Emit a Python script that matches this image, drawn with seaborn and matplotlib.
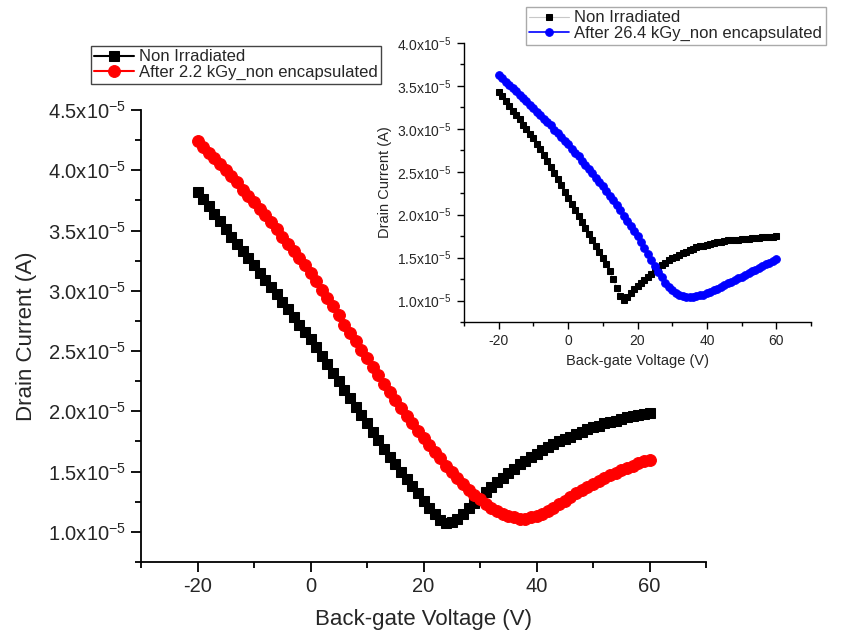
import numpy as np
import seaborn as sns
import matplotlib.pyplot as plt
from matplotlib.ticker import MultipleLocator, FuncFormatter

sns.set_style("ticks")
plt.rcParams['font.family'] = ['Liberation Sans', 'DejaVu Sans']
plt.rcParams['mathtext.fontset'] = 'custom'
plt.rcParams['mathtext.rm'] = 'Liberation Sans'
plt.rcParams['mathtext.default'] = 'regular'
plt.rcParams['axes.unicode_minus'] = False

# gate voltage sweep (V)
vg = np.arange(-20, 61, 1)

# main plot: drain current in units of 1e-5 A
main_non_irr = [3.82, 3.76, 3.70, 3.64, 3.58, 3.51, 3.45, 3.39, 3.33, 3.27,
                3.21, 3.15, 3.09, 3.03, 2.97, 2.91, 2.85, 2.78, 2.72, 2.66,
                2.60, 2.53, 2.46, 2.39, 2.32, 2.25, 2.18, 2.11, 2.04, 1.97,
                1.90, 1.83, 1.76, 1.69, 1.62, 1.56, 1.50, 1.44, 1.38, 1.32,
                1.26, 1.20, 1.15, 1.10, 1.07, 1.08, 1.11, 1.15, 1.20, 1.24,
                1.28, 1.33, 1.37, 1.41, 1.45, 1.49, 1.52, 1.56, 1.59, 1.62,
                1.65, 1.68, 1.70, 1.73, 1.75, 1.77, 1.79, 1.81, 1.83, 1.85,
                1.87, 1.88, 1.90, 1.91, 1.92, 1.94, 1.95, 1.96, 1.97, 1.98,
                1.99]
main_after = [4.24, 4.19, 4.14, 4.10, 4.05, 4.00, 3.95, 3.90, 3.84, 3.79,
              3.74, 3.68, 3.63, 3.57, 3.51, 3.45, 3.39, 3.33, 3.27, 3.21,
              3.15, 3.08, 3.01, 2.94, 2.87, 2.80, 2.72, 2.65, 2.58, 2.51,
              2.44, 2.37, 2.30, 2.23, 2.16, 2.09, 2.03, 1.96, 1.90, 1.84,
              1.78, 1.72, 1.66, 1.61, 1.55, 1.50, 1.45, 1.40, 1.35, 1.31,
              1.27, 1.23, 1.20, 1.17, 1.15, 1.13, 1.12, 1.11, 1.11, 1.12,
              1.13, 1.15, 1.17, 1.20, 1.23, 1.26, 1.29, 1.32, 1.35, 1.37,
              1.40, 1.42, 1.45, 1.47, 1.49, 1.51, 1.53, 1.55, 1.57, 1.59,
              1.60]

# inset plot
inset_non_irr = [3.43, 3.38, 3.32, 3.27, 3.21, 3.16, 3.11, 3.05, 3.00, 2.94,
                 2.89, 2.82, 2.76, 2.69, 2.63, 2.56, 2.49, 2.42, 2.35, 2.27,
                 2.20, 2.13, 2.05, 1.98, 1.91, 1.84, 1.77, 1.70, 1.63, 1.56,
                 1.49, 1.42, 1.34, 1.25, 1.15, 1.05, 1.01, 1.04, 1.09, 1.13,
                 1.17, 1.21, 1.24, 1.28, 1.31, 1.35, 1.38, 1.41, 1.44, 1.47,
                 1.49, 1.51, 1.53, 1.55, 1.57, 1.59, 1.60, 1.62, 1.63, 1.64,
                 1.65, 1.66, 1.67, 1.68, 1.68, 1.69, 1.70, 1.70, 1.71, 1.71,
                 1.72, 1.72, 1.72, 1.73, 1.73, 1.73, 1.74, 1.74, 1.74, 1.74,
                 1.75]
inset_after = [3.63, 3.59, 3.55, 3.51, 3.47, 3.44, 3.40, 3.36, 3.32, 3.28,
               3.24, 3.20, 3.16, 3.12, 3.08, 3.04, 2.99, 2.95, 2.91, 2.86,
               2.82, 2.77, 2.72, 2.68, 2.63, 2.58, 2.53, 2.48, 2.43, 2.38,
               2.33, 2.28, 2.22, 2.17, 2.11, 2.05, 1.99, 1.93, 1.87, 1.81,
               1.75, 1.68, 1.61, 1.54, 1.47, 1.40, 1.33, 1.27, 1.21, 1.16,
               1.12, 1.09, 1.07, 1.05, 1.04, 1.04, 1.04, 1.05, 1.06, 1.07,
               1.09, 1.10, 1.12, 1.14, 1.16, 1.18, 1.20, 1.22, 1.24, 1.26,
               1.28, 1.30, 1.32, 1.34, 1.36, 1.38, 1.40, 1.42, 1.44, 1.46,
               1.48]

scale = 1e-5


def sci_fmt(v, pos):
    return r"$\mathregular{%.1fx10^{-5}}$" % (v / scale)


def style_axes(ax, tick_size, lw):
    sns.despine(ax=ax)
    for side in ['left', 'bottom']:
        ax.spines[side].set_linewidth(lw)
        ax.spines[side].set_color('black')
    ax.xaxis.set_major_locator(MultipleLocator(20))
    ax.xaxis.set_minor_locator(MultipleLocator(10))
    ax.yaxis.set_major_locator(MultipleLocator(0.5 * scale))
    ax.yaxis.set_minor_locator(MultipleLocator(0.25 * scale))
    ax.yaxis.set_major_formatter(FuncFormatter(sci_fmt))
    ax.tick_params(which='major', direction='out', length=7 * lw / 1.3, width=lw,
                   labelsize=tick_size, color='black')
    ax.tick_params(which='minor', direction='out', length=4 * lw / 1.3, width=lw,
                   color='black')
    ax.set_xlim(-30, 70)


fig = plt.figure(figsize=(8.43, 6.37), dpi=100)

# ---- main axes
ax = fig.add_axes([141 / 843, 1 - 562 / 637, 565 / 843, 452 / 637])
sns.lineplot(x=vg, y=np.array(main_non_irr) * scale, ax=ax, color='black',
             marker='s', markersize=7.5, markeredgecolor='black', linewidth=1.5,
             label='Non Irradiated')
sns.lineplot(x=vg, y=np.array(main_after) * scale, ax=ax, color='#ff0000',
             marker='o', markersize=8.5, markeredgecolor='#ff0000', linewidth=1.5,
             label='After 2.2 kGy_non encapsulated')
style_axes(ax, 14.5, 1.3)
ax.set_ylim(0.75 * scale, 4.5 * scale)
ax.set_xlabel('Back-gate Voltage (V)', fontsize=16, labelpad=10)
ax.set_ylabel('Drain Current (A)', fontsize=16, labelpad=8)
leg = ax.legend(loc='upper left', bbox_to_anchor=(91 / 843, 1 - 46 / 637),
                bbox_transform=fig.transFigure, borderaxespad=0, fontsize=12,
                frameon=True, fancybox=False, framealpha=1, edgecolor='#444444',
                handlelength=2.4, handletextpad=0.3, labelspacing=0.05,
                borderpad=0.2)
leg.get_frame().set_linewidth(1.0)

# ---- inset axes
ins = fig.add_axes([464 / 843, 1 - 322 / 637, 347 / 843, 279 / 637])
ins.set_facecolor('white')
sns.lineplot(x=vg, y=np.array(inset_non_irr) * scale, ax=ins, color='#c8c8c8',
             marker='s', markersize=4.5, markerfacecolor='black',
             markeredgecolor='black', linewidth=0.8, label='Non Irradiated')
sns.lineplot(x=vg, y=np.array(inset_after) * scale, ax=ins, color='#0000ff',
             marker='o', markersize=5.5, markeredgecolor='#0000ff', linewidth=1.2,
             label='After 26.4 kGy_non encapsulated')
style_axes(ins, 10, 1.0)
ins.set_ylim(0.75 * scale, 4.0 * scale)
ins.set_xlabel('Back-gate Voltage (V)', fontsize=10.5, labelpad=4)
ins.set_ylabel('Drain Current (A)', fontsize=10.5, labelpad=4)
leg2 = ins.legend(loc='upper left', bbox_to_anchor=(526 / 843, 1 - 7 / 637),
                  bbox_transform=fig.transFigure, borderaxespad=0, fontsize=12,
                  frameon=True, fancybox=False, framealpha=1, edgecolor='#aaaaaa',
                  handlelength=2.4, handletextpad=0.3, labelspacing=0.05,
                  borderpad=0.2)
leg2.get_frame().set_linewidth(1.0)

fig.savefig('out.png', dpi=100)
